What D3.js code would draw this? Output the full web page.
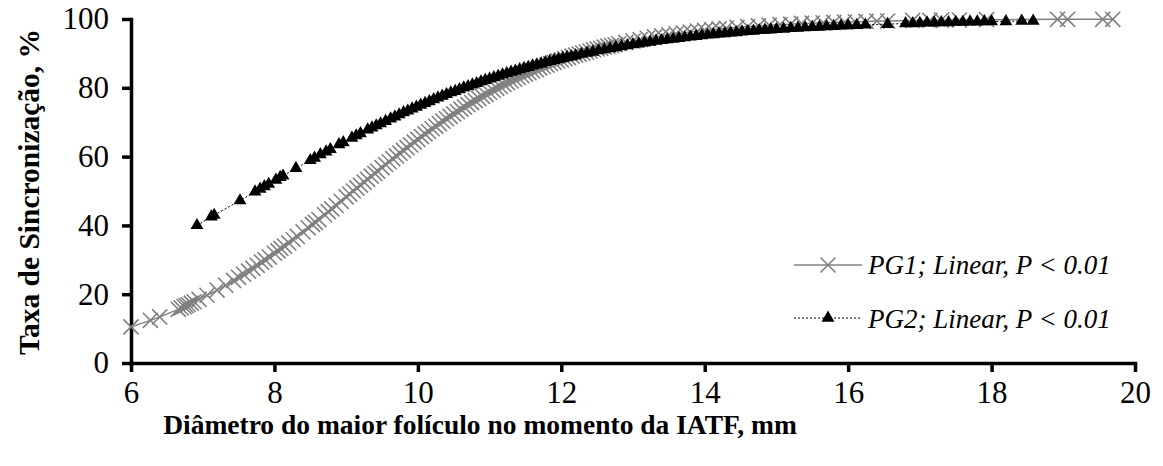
<!DOCTYPE html>
<html>
<head>
<meta charset="utf-8">
<script src="https://cdn.jsdelivr.net/npm/d3@7"></script>
<style>
  body { margin: 0; background: #fff; }
  svg text { font-family: "Liberation Serif", "Times New Roman", serif; fill: #000; }
</style>
</head>
<body>
<div id="chart"></div>
<script>
// PG1 - diametro (mm) e taxa de sincronizacao (%)
var pg1X = [6.00, 6.27, 6.40, 6.66, 6.70, 6.74, 6.77, 6.80, 6.84, 6.88, 6.95, 7.06, 7.20, 7.32, 7.43, 7.50,
  7.57, 7.64, 7.70, 7.76, 7.82, 7.87, 7.93, 8.00, 8.05, 8.09, 8.14, 8.20, 8.26, 8.32, 8.40, 8.47,
  8.53, 8.57, 8.62, 8.70, 8.75, 8.80, 8.86, 8.93, 9.00, 9.05, 9.10, 9.15, 9.20, 9.25, 9.30, 9.35,
  9.40, 9.44, 9.50, 9.55, 9.60, 9.65, 9.70, 9.75, 9.80, 9.85, 9.90, 9.95, 10.00, 10.05, 10.10, 10.15,
  10.20, 10.25, 10.30, 10.35, 10.40, 10.45, 10.50, 10.55, 10.60, 10.65, 10.70, 10.75, 10.80, 10.85,
  10.90, 10.95, 11.00, 11.05, 11.10, 11.15, 11.20, 11.25, 11.30, 11.35, 11.40, 11.45, 11.50, 11.55,
  11.60, 11.65, 11.70, 11.75, 11.80, 11.85, 11.90, 11.95, 12.00, 12.05, 12.10, 12.15, 12.20, 12.25,
  12.30, 12.35, 12.40, 12.45, 12.50, 12.55, 12.60, 12.65, 12.70, 12.75, 12.80, 12.90, 13.00, 13.10,
  13.20, 13.30, 13.40, 13.50, 13.60, 13.70, 13.80, 13.90, 14.00, 14.10, 14.20, 14.30, 14.45, 14.60,
  14.75, 14.90, 15.05, 15.20, 15.35, 15.50, 15.65, 15.80, 15.95, 16.10, 16.25, 16.40, 16.55, 16.90,
  17.14, 17.30, 17.55, 17.93, 18.92, 19.06, 19.55, 19.69];
var pg1Y = [10.5, 12.4, 13.4, 15.6, 16.0, 16.4, 16.7, 17.0, 17.4, 17.8, 18.5, 19.7, 21.2, 22.6, 24.0, 24.9,
  25.8, 26.7, 27.5, 28.4, 29.3, 30.0, 30.8, 31.9, 32.6, 33.3, 34.0, 34.9, 35.9, 36.8, 38.1, 39.3,
  40.3, 40.9, 41.7, 43.1, 44.0, 44.8, 45.8, 47.0, 48.3, 49.1, 50.0, 50.9, 51.7, 52.6, 53.4, 54.3,
  55.1, 55.8, 56.8, 57.7, 58.5, 59.4, 60.2, 61.0, 61.8, 62.6, 63.4, 64.2, 65.0, 65.8, 66.6, 67.3,
  68.1, 68.8, 69.6, 70.3, 71.0, 71.7, 72.4, 73.1, 73.8, 74.4, 75.1, 75.7, 76.3, 76.9,
  77.5, 78.1, 78.7, 79.3, 79.9, 80.4, 81.0, 81.5, 82.0, 82.5, 83.0, 83.5, 84.0, 84.4,
  84.9, 85.3, 85.8, 86.2, 86.6, 87.0, 87.4, 87.8, 88.1, 88.5, 88.8, 89.2, 89.5, 89.8,
  90.1, 90.4, 90.7, 91.0, 91.3, 91.5, 91.8, 92.1, 92.3, 92.5, 92.8, 93.2, 93.6, 94.0,
  94.4, 94.8, 95.1, 95.4, 95.7, 96.0, 96.2, 96.5, 96.7, 96.9, 97.1, 97.3, 97.6, 97.8,
  98.0, 98.2, 98.4, 98.5, 98.7, 98.8, 98.9, 99.0, 99.1, 99.2, 99.3, 99.4, 99.4, 99.6,
  99.6, 99.7, 99.7, 99.8, 99.9, 99.9, 99.9, 99.9];

// PG2
var pg2X = [6.92, 7.12, 7.16, 7.52, 7.73, 7.80, 7.86, 7.92, 8.02, 8.08, 8.12, 8.30, 8.50, 8.56, 8.64, 8.72,
  8.78, 8.90, 8.96, 9.08, 9.14, 9.20, 9.30, 9.36, 9.42, 9.48, 9.55, 9.62, 9.68, 9.74, 9.80, 9.86,
  9.92, 9.98, 10.04, 10.10, 10.16, 10.22, 10.28, 10.34, 10.40, 10.46, 10.52, 10.58, 10.64, 10.70,
  10.76, 10.82, 10.88, 10.94, 11.00, 11.06, 11.12, 11.18, 11.24, 11.30, 11.36, 11.42, 11.48, 11.54,
  11.60, 11.66, 11.72, 11.78, 11.84, 11.90, 11.96, 12.02, 12.08, 12.14, 12.20, 12.28, 12.36, 12.44,
  12.52, 12.60, 12.68, 12.76, 12.84, 12.92, 13.00, 13.08, 13.16, 13.24, 13.32, 13.40, 13.48, 13.56,
  13.64, 13.72, 13.80, 13.88, 13.96, 14.04, 14.12, 14.20, 14.28, 14.36, 14.44, 14.52, 14.60, 14.68,
  14.76, 14.84, 14.92, 15.00, 15.10, 15.20, 15.30, 15.40, 15.50, 15.60, 15.70, 15.80, 15.90, 16.00,
  16.12, 16.24, 16.55, 16.80, 16.90, 17.00, 17.10, 17.20, 17.30, 17.40, 17.50, 17.60, 17.70, 17.80,
  17.90, 18.00, 18.20, 18.42, 18.58];
var pg2Y = [40.0, 42.5, 43.0, 47.2, 49.8, 50.6, 51.3, 52.0, 53.2, 54.0, 54.4, 56.6, 58.9, 59.6, 60.6, 61.4,
  62.1, 63.5, 64.1, 65.4, 66.1, 66.7, 67.8, 68.4, 69.0, 69.6, 70.3, 71.0, 71.6, 72.2, 72.8, 73.3,
  73.9, 74.4, 75.0, 75.5, 76.0, 76.6, 77.1, 77.6, 78.1, 78.6, 79.0, 79.5, 80.0, 80.4,
  80.9, 81.3, 81.8, 82.2, 82.6, 83.0, 83.4, 83.8, 84.2, 84.6, 84.9, 85.3, 85.7, 86.0,
  86.4, 86.7, 87.0, 87.4, 87.7, 88.0, 88.3, 88.6, 88.9, 89.1, 89.4, 89.8, 90.1, 90.4,
  90.8, 91.1, 91.4, 91.7, 92.0, 92.3, 92.6, 92.8, 93.1, 93.3, 93.6, 93.8, 94.0, 94.2,
  94.4, 94.6, 94.8, 95.0, 95.2, 95.4, 95.5, 95.7, 95.8, 96.0, 96.1, 96.3, 96.4, 96.5,
  96.7, 96.8, 96.9, 97.0, 97.1, 97.3, 97.4, 97.5, 97.6, 97.7, 97.8, 97.9, 98.0, 98.1,
  98.2, 98.3, 98.5, 98.7, 98.7, 98.8, 98.9, 98.9, 99.0, 99.0, 99.1, 99.1, 99.2, 99.2,
  99.3, 99.3, 99.3, 99.4, 99.4];

var xTicks = [6, 8, 10, 12, 14, 16, 18, 20];
var yTicks = [0, 20, 40, 60, 80, 100];
var legendLabels = ["PG1; Linear, P < 0.01", "PG2; Linear, P < 0.01"];

var svgWidth = 1163, svgHeight = 466;
var margin = {top: 19, right: 28, bottom: 103, left: 131};
var chartWidth = svgWidth - margin.left - margin.right;
var chartHeight = svgHeight - margin.top - margin.bottom;

var svg = d3.select("#chart").append("svg")
  .attr("width", svgWidth)
  .attr("height", svgHeight);

var chartGroup = svg.append("g")
  .attr("transform", `translate(${margin.left}, ${margin.top})`);

var xScale = d3.scaleLinear().domain([6, 20]).range([0, chartWidth]);
var yScale = d3.scaleLinear().domain([0, 100]).range([chartHeight, 0]);

var pg1 = pg1X.map((x, i) => ({x: x, y: pg1Y[i]}));
var pg2 = pg2X.map((x, i) => ({x: x, y: pg2Y[i]}));

// axes
var bottomAxis = d3.axisBottom(xScale).tickValues(xTicks).tickSize(9).tickSizeOuter(0).tickPadding(9);
var leftAxis = d3.axisLeft(yScale).tickValues(yTicks).tickSize(9).tickSizeOuter(0).tickPadding(13);

var gx = chartGroup.append("g")
  .attr("transform", `translate(0, ${chartHeight})`)
  .call(bottomAxis);
var gy = chartGroup.append("g").call(leftAxis);

[gx, gy].forEach(function(g) {
  g.select(".domain").attr("stroke", "#000").attr("stroke-width", 3.5).attr("stroke-linecap", "square");
  g.selectAll(".tick line").attr("stroke", "#000").attr("stroke-width", 3.5);
  g.selectAll(".tick text").style("font-family", "Liberation Serif").style("font-size", "31px").attr("fill", "#000");
});

var line = d3.line().x(d => xScale(d.x)).y(d => yScale(d.y));
var cross = d3.symbol().type(d3.symbolX).size(150);
var tri = d3.symbol().type(d3.symbolTriangle).size(72);

// PG1 gray line with x markers
chartGroup.append("path").datum(pg1)
  .attr("d", line)
  .attr("fill", "none")
  .attr("stroke", "#808080")
  .attr("stroke-width", 1.5);

chartGroup.selectAll(".pg1").data(pg1).enter().append("path")
  .attr("class", "pg1")
  .attr("d", cross)
  .attr("transform", d => `translate(${xScale(d.x)}, ${yScale(d.y)})`)
  .attr("fill", "none")
  .attr("stroke", "#808080")
  .attr("stroke-width", 1.6);

// PG2 dotted black line with triangles
chartGroup.append("path").datum(pg2)
  .attr("d", line)
  .attr("fill", "none")
  .attr("stroke", "#000")
  .attr("stroke-width", 1)
  .attr("stroke-dasharray", "2,2");

chartGroup.selectAll(".pg2").data(pg2).enter().append("path")
  .attr("class", "pg2")
  .attr("d", tri)
  .attr("transform", d => `translate(${xScale(d.x)}, ${yScale(d.y)})`)
  .attr("fill", "#000");

// legend
var legend = svg.append("g");
legend.append("line").attr("x1", 794).attr("x2", 862).attr("y1", 265).attr("y2", 265)
  .attr("stroke", "#808080").attr("stroke-width", 1.5);
legend.append("path").attr("d", cross).attr("transform", "translate(828, 265)")
  .attr("fill", "none").attr("stroke", "#808080").attr("stroke-width", 1.6);
legend.append("text").attr("x", 868).attr("y", 274)
  .style("font-size", "27px").style("font-style", "italic").text(legendLabels[0]);

legend.append("line").attr("x1", 794).attr("x2", 862).attr("y1", 318).attr("y2", 318)
  .attr("stroke", "#000").attr("stroke-width", 1).attr("stroke-dasharray", "2,2");
legend.append("path").attr("d", tri).attr("transform", "translate(828, 318)").attr("fill", "#000");
legend.append("text").attr("x", 868).attr("y", 328)
  .style("font-size", "27px").style("font-style", "italic").text(legendLabels[1]);

// axis titles
svg.append("text")
  .attr("x", 480).attr("y", 434)
  .attr("text-anchor", "middle")
  .style("font-size", "27.5px").style("font-weight", "bold")
  .text("Diâmetro do maior folículo no momento da IATF, mm");

svg.append("text")
  .attr("transform", "translate(39, 192) rotate(-90)")
  .attr("text-anchor", "middle")
  .style("font-size", "29.5px").style("font-weight", "bold")
  .text("Taxa de Sincronização, %");
</script>
</body>
</html>
